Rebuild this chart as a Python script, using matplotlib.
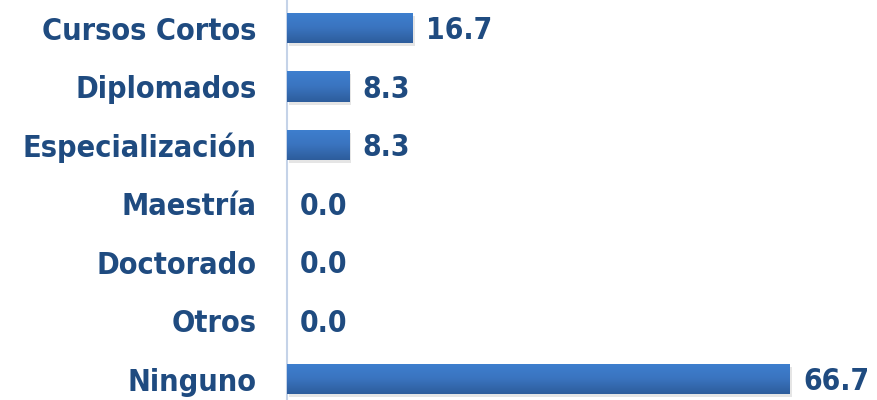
import matplotlib
matplotlib.use("Agg")
import matplotlib.pyplot as plt
import numpy as np
from matplotlib.colors import LinearSegmentedColormap

categories = ["Cursos Cortos", "Diplomados", "Especialización", "Maestría",
              "Doctorado", "Otros", "Ninguno"]
values = [16.7, 8.3, 8.3, 0.0, 0.0, 0.0, 66.7]

text_color = "#1f4b80"
font = ["DejaVu Sans"]
bar_grad = LinearSegmentedColormap.from_list("bar", ["#3e7fcf", "#3a74bf", "#2d5d9c"])

fig = plt.figure(figsize=(8.77, 4.0), dpi=100)
ax = fig.add_axes([287 / 877, 0, 590 / 877, 1])

ypos = np.arange(len(categories))
height = 0.52
ax.set_xlim(0, 590 / 7.54)
ax.set_ylim((400 - 28) / 58.5, -28 / 58.5)

grad = np.linspace(0, 1, 64).reshape(-1, 1)
for y, v in zip(ypos, values):
    if v > 0:
        # soft shadow
        ax.barh(y + 0.05, v, height=height, left=0.25, color="#000000",
                alpha=0.10, linewidth=0, zorder=1)
        bar = ax.barh(y, v, height=height, color="#3a74bf", linewidth=0, zorder=2)[0]
        im = ax.imshow(grad, cmap=bar_grad, aspect="auto", zorder=3,
                       extent=(0, v, y + height / 2, y - height / 2))
        im.set_clip_path(bar)
    ax.annotate(f"{v:.1f}", xy=(v, y), xytext=(9.5, -2), textcoords="offset points",
                va="center", ha="left", fontsize=21.5, fontweight="bold",
                fontstretch="condensed", color=text_color, family=font)

ax.set_yticks(ypos)
ax.set_yticklabels(categories, fontsize=22, fontweight="bold", color=text_color,
                   family=font, fontstretch="condensed")
ax.tick_params(axis="y", length=0, pad=22)
for lbl in ax.get_yticklabels():
    lbl.set_y(lbl.get_position()[1])
ax.set_xticks([])
for side in ["top", "right", "bottom"]:
    ax.spines[side].set_visible(False)
ax.spines["left"].set_color("#c5d3e8")
ax.spines["left"].set_linewidth(1.5)

fig.savefig("out.png", dpi=100)
